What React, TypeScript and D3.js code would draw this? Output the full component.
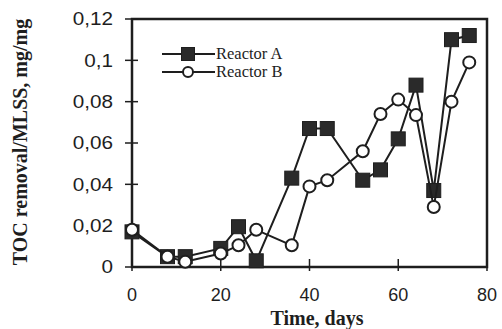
import React from "react";
import * as d3 from "d3";

const days = [0, 8, 12, 20, 24, 28, 36, 40, 44, 52, 56, 60, 64, 68, 72, 76];
const reactorA = [0.017, 0.005, 0.005, 0.009, 0.0195, 0.003, 0.043, 0.067, 0.067, 0.042, 0.047, 0.062, 0.088, 0.037, 0.11, 0.112];
const reactorB = [0.018, 0.005, 0.0025, 0.0065, 0.0105, 0.018, 0.0105, 0.039, 0.042, 0.056, 0.074, 0.081, 0.0735, 0.029, 0.08, 0.099];
const xTicks = [0, 20, 40, 60, 80];
const yTicks = [0, 0.02, 0.04, 0.06, 0.08, 0.1, 0.12];

const W = 502;
const H = 329;
const margin = { top: 19, right: 15, bottom: 62, left: 132 };
const ink = "#1e1e1e";
const serif = "'Liberation Serif', 'Times New Roman', serif";
const sans = "'Liberation Sans', Arial, sans-serif";

const fmt = (v: number) => String(+v.toFixed(2)).replace(".", ",");

export default function App() {
  const x = d3.scaleLinear().domain([0, 80]).range([margin.left, W - margin.right]);
  const y = d3.scaleLinear().domain([0, 0.12]).range([H - margin.bottom, margin.top]);

  const line = d3
    .line<[number, number]>()
    .x(d => x(d[0]))
    .y(d => y(d[1]));

  const ptsA = days.map((d, i) => [d, reactorA[i]] as [number, number]);
  const ptsB = days.map((d, i) => [d, reactorB[i]] as [number, number]);

  const [x0, x1] = x.range();
  const [y0, y1] = y.range();

  return (
    <svg width={W} height={H} style={{ position: "absolute", left: 0, top: 0, background: "#fff" }}>
      {/* frame */}
      <rect x={x0} y={y1} width={x1 - x0} height={y0 - y1} fill="none" stroke={ink} strokeWidth={2.5} />

      {/* y ticks */}
      {yTicks.map(t => (
        <g key={"y" + t}>
          <line x1={x0 - 7} x2={x0 + 6} y1={y(t)} y2={y(t)} stroke={ink} strokeWidth={1.5} />
          <text x={x0 - 19} y={y(t)} dy="0.36em" textAnchor="end" fontFamily={sans} fontSize={18} fill={ink}
            transform={`translate(${x0 - 19} 0) scale(1.15 1) translate(${-(x0 - 19)} 0)`}>
            {fmt(t)}
          </text>
        </g>
      ))}

      {/* x ticks */}
      {xTicks.map(t => (
        <g key={"x" + t}>
          <line x1={x(t)} x2={x(t)} y1={y0 + 4} y2={y0 - 8} stroke={ink} strokeWidth={1.5} />
          <text x={x(t)} y={y0 + 34} textAnchor="middle" fontFamily={sans} fontSize={18} fill={ink}>
            {t}
          </text>
        </g>
      ))}

      {/* axis titles */}
      <text x={317} y={325} textAnchor="middle" fontFamily={serif} fontWeight="bold" fontSize={20} fill={ink}>
        Time, days
      </text>
      <text transform="translate(27 142) rotate(-90)" textAnchor="middle" fontFamily={serif} fontWeight="bold" fontSize={20} fill={ink}>
        TOC removal/MLSS, mg/mg
      </text>

      {/* series A */}
      <path d={line(ptsA) || ""} fill="none" stroke={ink} strokeWidth={2} />
      {ptsA.map((p, i) => (
        <rect key={"a" + i} x={x(p[0]) - 7} y={y(p[1]) - 7} width={14} height={14} fill="#2a2a2a" stroke={ink} strokeWidth={1} />
      ))}

      {/* series B */}
      <path d={line(ptsB) || ""} fill="none" stroke={ink} strokeWidth={2} />
      {ptsB.map((p, i) => (
        <circle key={"b" + i} cx={x(p[0])} cy={y(p[1])} r={6} fill="#fff" stroke={ink} strokeWidth={2} />
      ))}

      {/* legend */}
      <g>
        <line x1={162} x2={215} y1={54} y2={54} stroke={ink} strokeWidth={2} />
        <rect x={188 - 6.5} y={54 - 6.5} width={13} height={13} fill="#2a2a2a" stroke={ink} strokeWidth={1} />
        <text x={216} y={59} fontFamily={serif} fontSize={16.5} fill={ink}>Reactor A</text>
        <line x1={162} x2={215} y1={72} y2={72} stroke={ink} strokeWidth={2} />
        <circle cx={188} cy={72} r={5} fill="#fff" stroke={ink} strokeWidth={2} />
        <text x={216} y={77} fontFamily={serif} fontSize={16.5} fill={ink}>Reactor B</text>
      </g>
    </svg>
  );
}
